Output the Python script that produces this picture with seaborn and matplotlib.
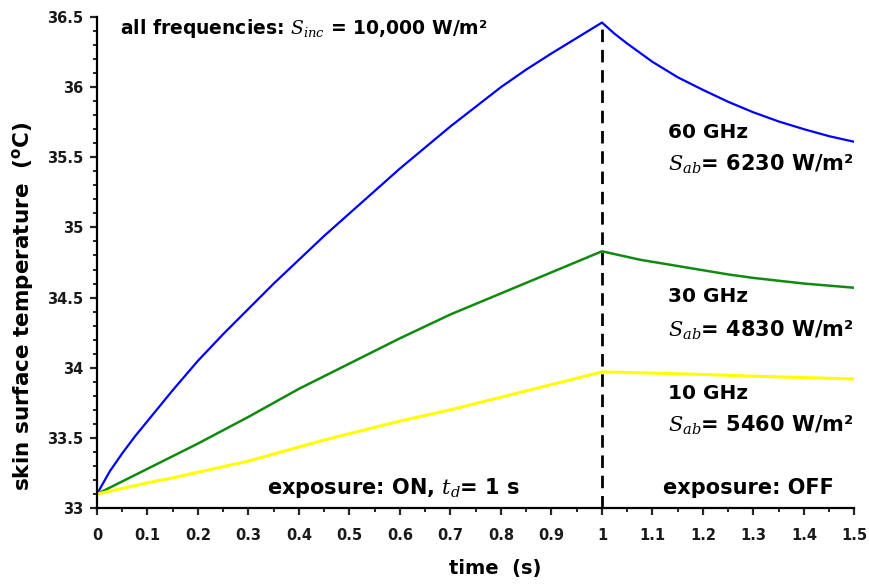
import numpy as np
import pandas as pd
import matplotlib
matplotlib.use("Agg")
import matplotlib.pyplot as plt
from matplotlib.ticker import MultipleLocator
import seaborn as sns

# ---- data ----
t_on = [0.0, 0.025, 0.05, 0.075, 0.1, 0.15, 0.2, 0.25, 0.3, 0.35, 0.4, 0.45, 0.5,
        0.55, 0.6, 0.65, 0.7, 0.75, 0.8, 0.85, 0.9, 0.95, 1.0]
t_off = [1.0, 1.025, 1.05, 1.075, 1.1, 1.15, 1.2, 1.25, 1.3, 1.35, 1.4, 1.45, 1.5]

ghz60_on = [33.10, 33.26, 33.39, 33.51, 33.62, 33.84, 34.05, 34.24, 34.42, 34.60, 34.77,
            34.94, 35.10, 35.26, 35.42, 35.57, 35.72, 35.86, 36.00, 36.125, 36.24, 36.35, 36.46]
ghz60_off = [36.46, 36.38, 36.31, 36.245, 36.18, 36.07, 35.98, 35.895, 35.82, 35.755,
             35.70, 35.65, 35.61]

ghz30_on = [33.10, 33.145, 33.19, 33.235, 33.28, 33.37, 33.46, 33.555, 33.65, 33.75, 33.85,
            33.94, 34.03, 34.12, 34.21, 34.295, 34.38, 34.455, 34.53, 34.605, 34.68, 34.755, 34.83]
ghz30_off = [34.83, 34.81, 34.79, 34.77, 34.755, 34.725, 34.695, 34.665, 34.64, 34.62,
             34.60, 34.585, 34.57]

ghz10_on = [33.10, 33.12, 33.14, 33.16, 33.18, 33.215, 33.255, 33.295, 33.335, 33.385, 33.435,
            33.485, 33.53, 33.575, 33.62, 33.66, 33.70, 33.745, 33.79, 33.835, 33.88, 33.925, 33.97]
ghz10_off = [33.97, 33.968, 33.966, 33.964, 33.962, 33.957, 33.952, 33.946, 33.94, 33.935,
             33.93, 33.925, 33.92]

series_names = ["60 GHz", "30 GHz", "10 GHz"]
series_colors = ["#0000ff", "#108a10", "#ffff00"]
series_widths = [1.6, 1.8, 2.2]
sab_labels = ["6230", "4830", "5460"]

# ---- build long table ----
rows = []
for name, on, off in zip(series_names,
                         [ghz60_on, ghz30_on, ghz10_on],
                         [ghz60_off, ghz30_off, ghz10_off]):
    for t, v in zip(t_on, on):
        rows.append((name, t, v))
    for t, v in zip(t_off[1:], off[1:]):
        rows.append((name, t, v))
df = pd.DataFrame(rows, columns=["series", "time", "temp"])

sns.set_theme(style="ticks")
plt.rcParams["font.family"] = ["DejaVu Sans"]
plt.rcParams["mathtext.fontset"] = "custom"
plt.rcParams["mathtext.rm"] = "DejaVu Sans:bold"
plt.rcParams["mathtext.bf"] = "DejaVu Sans:bold"
plt.rcParams["mathtext.it"] = "DejaVu Serif:italic"
plt.rcParams["text.color"] = "black"
plt.rcParams["axes.labelcolor"] = "black"

fig = plt.figure(figsize=(8.69, 5.84), dpi=100)
ax = fig.add_axes([0.1116, 0.130, 0.8717, 0.841])

sns.lineplot(data=df, x="time", y="temp", hue="series", hue_order=series_names,
             palette=series_colors, estimator=None, sort=False, linewidth=1.6,
             legend=False, ax=ax)
for line, lw in zip(ax.get_lines(), series_widths):
    line.set_linewidth(lw)

# dashed line at end of exposure
ax.plot([1.0, 1.0], [33.0, ghz60_on[-1]], color="black", linewidth=2.0,
        dashes=(4.5, 2.8), zorder=1)

ax.set_xlim(0, 1.5)
ax.set_ylim(33, 36.5)
ax.xaxis.set_minor_locator(MultipleLocator(0.05))
ax.yaxis.set_minor_locator(MultipleLocator(0.1))

xt = [0, 0.1, 0.2, 0.3, 0.4, 0.5, 0.6, 0.7, 0.8, 0.9, 1, 1.1, 1.2, 1.3, 1.4, 1.5]
ax.set_xticks(xt)
ax.set_xticklabels([("%g" % v) for v in xt])
yt = [33, 33.5, 34, 34.5, 35, 35.5, 36, 36.5]
ax.set_yticks(yt)
ax.set_yticklabels([("%g" % v) for v in yt])

for lab in ax.get_xticklabels() + ax.get_yticklabels():
    lab.set_fontweight("bold")
    lab.set_fontsize(10.5)
    lab.set_color("#1a1a1a")

ax.tick_params(axis="x", which="major", direction="out", length=5, width=1.6, pad=9)
ax.tick_params(axis="y", which="major", direction="out", length=5, width=1.6, pad=5)
ax.tick_params(which="minor", direction="out", length=3, width=1.4)

for s in ["top", "right"]:
    ax.spines[s].set_visible(False)
for s in ["left", "bottom"]:
    ax.spines[s].set_linewidth(1.6)
    ax.spines[s].set_color("black")

ax.set_xlabel("time  (s)", fontsize=14, fontweight="bold", color="black")
ax.xaxis.set_label_coords(0.526, -0.104)
ax.set_ylabel(r"skin surface temperature  ($^{\mathrm{o}}$C)", fontsize=15.5,
              fontweight="bold", color="black")
ax.yaxis.set_label_coords(-0.081, 0.41)

kw = dict(fontweight="bold", va="center", ha="left", color="black")
ax.text(0.046, 36.42, r"all frequencies: $S_{inc}$ = 10,000 W/m²", fontsize=13.5, **kw)
ypos = [(35.68, 35.45), (34.51, 34.27), (33.82, 33.59)]
for name, sab, (y1, y2) in zip(series_names, sab_labels, ypos):
    ax.text(1.13, y1, name, fontsize=14.5, **kw)
    ax.text(1.13, y2, r"$S_{ab}$= " + sab + " W/m²", fontsize=15, **kw)
ax.text(0.337, 33.14, r"exposure: ON, $t_d$= 1 s", fontsize=15, **kw)
ax.text(1.121, 33.14, "exposure: OFF", fontsize=15, **kw)

fig.savefig("out.png", dpi=100)
